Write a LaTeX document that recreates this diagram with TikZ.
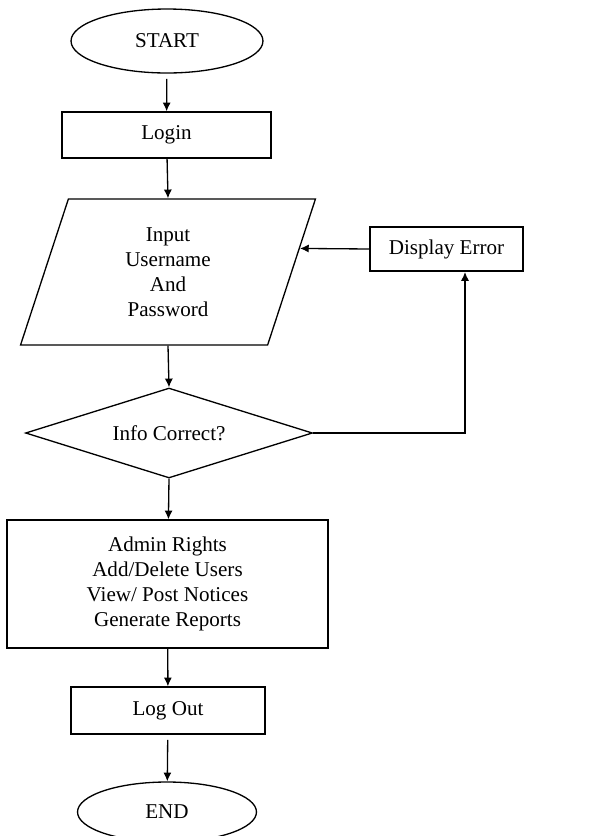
\documentclass[tikz,border=0pt]{standalone}
\usepackage{fontspec}
\setmainfont{Liberation Serif}
\usetikzlibrary{shapes.geometric,arrows.meta,calc}
\begin{document}
\begin{tikzpicture}[x=0.02cm, y=-0.02cm, line width=0.75pt,
        every node/.style={font=\fontsize{12}{14.2}\selectfont, align=center, inner sep=0pt},
        terminal/.style={draw, ellipse},
        process/.style={draw, rectangle},
        flow/.style={-{Latex[length=5pt,width=4.6pt]}}]
    \useasboundingbox (0,0) rectangle (603,836);
    \node[terminal, minimum width=3.84cm, minimum height=1.28cm] (start) at (167,41) {START};
    \node[process, minimum width=4.18cm, minimum height=0.92cm] (login) at (166.5,135) {Login};
    \node[draw, trapezium, trapezium left angle=77, trapezium right angle=103,
          trapezium stretches=true, minimum width=5.94cm, minimum height=2.92cm] (inp) at (168,272)
          {Input\\Username\\And\\Password};
    \node[draw, diamond, aspect=3.19, minimum width=5.74cm, minimum height=1.8cm] (dec) at (169,433) {Info Correct?};
    \node[process, minimum width=3.06cm, minimum height=0.88cm] (err) at (446.5,249) {Display Error};
    \node[process, minimum width=6.42cm, minimum height=2.56cm] (admin) at (167.5,584)
          {Admin Rights\\Add/Delete Users\\View/ Post Notices\\Generate Reports};
    \node[process, minimum width=3.88cm, minimum height=0.94cm] (logout) at (168,710.5) {Log Out};
    \node[terminal, minimum width=3.58cm, minimum height=1.2cm] (end) at (167,812) {END};
    \coordinate (errin) at (465,272);

    \draw[flow, shorten <=3pt] (start) -- (login);
    \draw[flow] (login) -- (inp.north);
    \draw[flow] (inp.south) -- (dec.north);
    \draw[flow] (dec.south) -- (admin);
    \draw[flow] (admin) -- (logout);
    \draw[flow, shorten <=3pt] (logout) -- (end);
    \draw[flow] (dec.east) -| (errin);
    \draw[flow] (err.west) -- ($(inp.top right corner)!0.34!(inp.bottom right corner)$);
\end{tikzpicture}
\end{document}
